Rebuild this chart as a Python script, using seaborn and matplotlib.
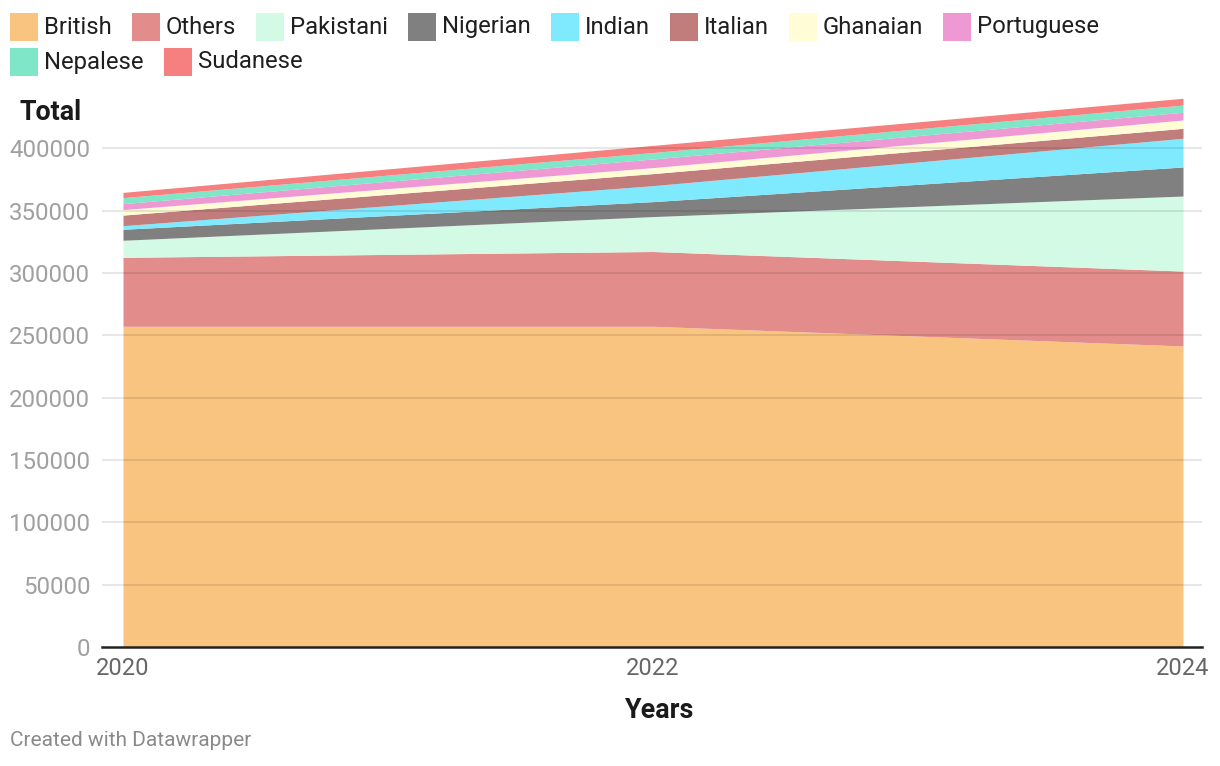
import matplotlib
matplotlib.use("Agg")
import matplotlib.pyplot as plt
import seaborn as sns
import numpy as np
from matplotlib.patches import Rectangle

years = [2020, 2022, 2024]
categories = ["British", "Others", "Pakistani", "Nigerian", "Indian",
              "Italian", "Ghanaian", "Portuguese", "Nepalese", "Sudanese"]
british    = [257300, 257300, 241500]
others     = [55300, 60000, 60100]
pakistani  = [13700, 28000, 60200]
nigerian   = [8800, 12000, 23300]
indian     = [2900, 12800, 23000]
italian    = [8500, 9700, 8000]
ghanaian   = [4400, 4800, 6700]
portuguese = [4800, 6900, 6200]
nepalese   = [4800, 5200, 5800]
sudanese   = [4200, 5700, 5400]
series = [british, others, pakistani, nigerian, indian,
          italian, ghanaian, portuguese, nepalese, sudanese]
colors = ["#f9c47f", "#e28d8c", "#d2fae4", "#808080", "#7fe9fe",
          "#c07d7c", "#fffcd6", "#ee98d4", "#7fe6c8", "#f67f7f"]
yticks = [0, 50000, 100000, 150000, 200000, 250000, 300000, 350000, 400000]
xticks = [2020, 2022, 2024]

sns.set_theme(style="white")
plt.rcParams['font.family'] = ['Roboto', 'DejaVu Sans']

W, H = 1220, 766
fig = plt.figure(figsize=(W / 100, H / 100), dpi=100)
ax = fig.add_axes([102 / W, 1 - 647 / H, 1100 / W, (647 - 92.3) / H])

ax.stackplot(years, *series, colors=colors, linewidth=0, zorder=1)

ax.set_xlim(2020 - 21 / 265, 2024 + 19 / 265)
ax.set_ylim(0, 445000)
ax.set_yticks(yticks)
ax.set_yticklabels([str(v) for v in yticks], color="#a0a0a0", fontsize=17.3)
ax.set_xticks(xticks)
ax.set_xticklabels([str(v) for v in xticks], color="#666666", fontsize=17)
ax.tick_params(axis="y", length=0, pad=8.5)
ax.tick_params(axis="x", length=0, pad=7)
for v in yticks[1:]:
    ax.axhline(v, color=(0, 0, 0, 0.1), lw=1.3, zorder=3)
for s in ["top", "right", "left"]:
    ax.spines[s].set_visible(False)
ax.spines["bottom"].set_color("#222222")
ax.spines["bottom"].set_linewidth(1.8)
ax.spines["bottom"].set_zorder(4)
ax.set_facecolor("white")

fig.text(20 / W, 1 - 112 / H, "Total", fontsize=19.4, fontweight="bold",
         color="#1a1a1a", va="center", ha="left")
fig.text(659 / W, 1 - 710 / H, "Years", fontsize=19.4, fontweight="bold",
         color="#1a1a1a", va="center", ha="center")
fig.text(10 / W, 1 - 741 / H, "Created with Datawrapper", fontsize=15,
         color="#8a8a8a", va="center", ha="left")

# legend (flow layout)
renderer = fig.canvas.get_renderer()
x = 10
row_y = [27, 62]
row = 0
sq = 28
for name, c in zip(categories, colors):
    t = fig.text(0, 0, name, fontsize=17.2, color="#1f1f1f", va="center", ha="left")
    w = t.get_window_extent(renderer=renderer).width
    if x + sq + 6 + w > 1130:
        row += 1
        x = 10
    yc = row_y[row]
    fig.patches.append(Rectangle((x / W, 1 - (yc + sq / 2) / H), sq / W, sq / H,
                                 transform=fig.transFigure, facecolor=c,
                                 edgecolor="none"))
    t.set_position(((x + sq + 6) / W, 1 - yc / H))
    x = x + sq + 6 + w + 20

fig.savefig("out.png", dpi=100, facecolor="white")
